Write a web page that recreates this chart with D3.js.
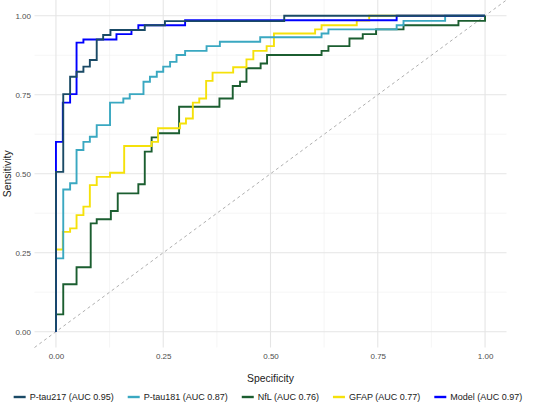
<html>
<head>
<script src="https://d3js.org/d3.v7.min.js"></script>
<style>
  body { margin: 0; background: #fff; }
  text { font-family: 'Liberation Sans', Arial, sans-serif; }
</style>
</head>
<body>
<svg width="540" height="410"></svg>
<script>
// series names + legend text
const seriesNames = ['P-tau217', 'P-tau181', 'NfL', 'GFAP', 'Model'];
const aucValues = ['0.95', '0.87', '0.76', '0.77', '0.97'];
const seriesColors = ['#1a4a66', '#3aa8c1', '#1b5e30', '#f5e10a', '#0000ff'];

// step points: at each x the curve rises to y, then runs right
const ptau217X = [0, 0, 0.017, 0.033, 0.048, 0.064, 0.079, 0.095, 0.11, 0.127, 0.207, 0.254, 0.532, 1];
const ptau217Y = [0, 0.506, 0.752, 0.807, 0.823, 0.839, 0.86, 0.925, 0.939, 0.955, 0.97, 0.983, 1, 1];

const ptau181X = [0, 0, 0.017, 0.033, 0.048, 0.064, 0.079, 0.095, 0.126, 0.157, 0.172, 0.204, 0.219, 0.235, 0.25, 0.266, 0.281, 0.301, 0.351, 0.382, 0.476, 0.619, 0.635, 0.794, 0.81, 0.907, 1];
const ptau181Y = [0, 0.232, 0.45, 0.47, 0.575, 0.601, 0.617, 0.654, 0.725, 0.738, 0.752, 0.791, 0.807, 0.823, 0.839, 0.854, 0.876, 0.889, 0.904, 0.918, 0.932, 0.944, 0.957, 0.97, 0.984, 1, 1];

const nflX = [0, 0, 0.017, 0.048, 0.081, 0.095, 0.128, 0.144, 0.192, 0.207, 0.223, 0.238, 0.287, 0.381, 0.412, 0.429, 0.444, 0.477, 0.492, 0.619, 0.635, 0.684, 0.715, 0.746, 0.81, 0.938, 1];
const nflY = [0, 0.055, 0.15, 0.204, 0.343, 0.356, 0.382, 0.438, 0.467, 0.57, 0.615, 0.628, 0.712, 0.738, 0.778, 0.791, 0.834, 0.849, 0.876, 0.889, 0.904, 0.928, 0.942, 0.957, 0.97, 0.984, 1];

const gfapX = [0, 0, 0.016, 0.033, 0.048, 0.064, 0.079, 0.095, 0.126, 0.159, 0.223, 0.238, 0.289, 0.303, 0.319, 0.334, 0.35, 0.365, 0.413, 0.444, 0.46, 0.491, 0.508, 0.604, 0.619, 0.701, 0.73, 1];
const gfapY = [0, 0.26, 0.316, 0.327, 0.369, 0.396, 0.464, 0.49, 0.503, 0.588, 0.601, 0.644, 0.659, 0.675, 0.725, 0.738, 0.794, 0.82, 0.837, 0.862, 0.889, 0.904, 0.944, 0.957, 0.97, 0.985, 1, 1];

const modelX = [0, 0, 0.016, 0.033, 0.048, 0.064, 0.141, 0.176, 0.192, 0.301, 0.794, 1];
const modelY = [0, 0.601, 0.725, 0.752, 0.915, 0.925, 0.942, 0.955, 0.97, 0.986, 1, 1];

const tickValues = [0, 0.25, 0.5, 0.75, 1];
const tickLabels = ['0.00', '0.25', '0.50', '0.75', '1.00'];
const minorTicks = [0.125, 0.375, 0.625, 0.875];

const allX = [ptau217X, ptau181X, nflX, gfapX, modelX];
const allY = [ptau217Y, ptau181Y, nflY, gfapY, modelY];

const svg = d3.select('svg');
const panelLeft = 34.5, panelRight = 506.5, panelTop = 0, panelBottom = 347.5;

const x = d3.scaleLinear().domain([-0.05, 1.05]).range([panelLeft, panelRight]);
const y = d3.scaleLinear().domain([-0.05, 1.05]).range([panelBottom, panelTop]);

// grid
const grid = svg.append('g');
grid.selectAll('.vminor').data(minorTicks).enter().append('line')
  .attr('x1', d => x(d)).attr('x2', d => x(d)).attr('y1', panelTop).attr('y2', panelBottom)
  .attr('stroke', '#f0f0f0').attr('stroke-width', 0.6);
grid.selectAll('.hminor').data(minorTicks).enter().append('line')
  .attr('y1', d => y(d)).attr('y2', d => y(d)).attr('x1', panelLeft).attr('x2', panelRight)
  .attr('stroke', '#f0f0f0').attr('stroke-width', 0.6);
grid.selectAll('.vmajor').data(tickValues).enter().append('line')
  .attr('x1', d => x(d)).attr('x2', d => x(d)).attr('y1', panelTop).attr('y2', panelBottom)
  .attr('stroke', '#e5e5e5').attr('stroke-width', 1.1);
grid.selectAll('.hmajor').data(tickValues).enter().append('line')
  .attr('y1', d => y(d)).attr('y2', d => y(d)).attr('x1', panelLeft).attr('x2', panelRight)
  .attr('stroke', '#e5e5e5').attr('stroke-width', 1.1);

// reference diagonal
svg.append('line')
  .attr('x1', x(-0.05)).attr('y1', y(-0.05)).attr('x2', x(1.05)).attr('y2', y(1.05))
  .attr('stroke', '#9a9a9a').attr('stroke-width', 0.8).attr('stroke-dasharray', '3,3');

// curves
const line = d3.line().x(d => x(d[0])).y(d => y(d[1])).curve(d3.curveStepAfter);
const drawOrder = [2, 3, 1, 4, 0];
drawOrder.forEach(i => {
  const pts = allX[i].map((v, j) => [v, allY[i][j]]);
  svg.append('path').datum(pts)
    .attr('d', line)
    .attr('fill', 'none')
    .attr('stroke', seriesColors[i])
    .attr('stroke-width', 1.9)
    .attr('stroke-linejoin', 'miter');
});

// axes
const fmt = (d, i) => tickLabels[i];
const xAxis = svg.append('g').attr('transform', 'translate(0,' + panelBottom + ')')
  .call(d3.axisBottom(x).tickValues(tickValues).tickFormat(fmt).tickSize(0).tickPadding(5.5));
const yAxis = svg.append('g').attr('transform', 'translate(' + panelLeft + ',0)')
  .call(d3.axisLeft(y).tickValues(tickValues).tickFormat(fmt).tickSize(0).tickPadding(3.5));
[xAxis, yAxis].forEach(a => {
  a.select('.domain').remove();
  a.selectAll('text').attr('fill', '#4d4d4d').style('font-size', '8px')
    .style('font-family', "'Liberation Sans', Arial, sans-serif");
});

svg.append('text').attr('x', (x(0) + x(1)) / 2).attr('y', 381.5)
  .attr('text-anchor', 'middle').style('font-size', '10.4px').attr('fill', '#1a1a1a')
  .text('Specificity');
svg.append('text').attr('transform', 'translate(11,' + y(0.5) + ') rotate(-90)')
  .attr('text-anchor', 'middle').style('font-size', '10.4px').attr('fill', '#1a1a1a')
  .text('Sensitivity');

// legend
const legend = svg.append('g');
const items = legend.selectAll('g').data(seriesNames).enter().append('g');
items.append('line').attr('x1', 0).attr('x2', 12).attr('y1', 0).attr('y2', 0)
  .attr('stroke', (d, i) => seriesColors[i]).attr('stroke-width', 2.4);
items.append('text').attr('x', 16).attr('y', 3.2)
  .style('font-size', '9px').attr('fill', '#1a1a1a')
  .text((d, i) => d + ' (AUC ' + aucValues[i] + ')');
let pos = 0;
const offsets = [];
const gap = 14;
items.each(function () {
  offsets.push(pos);
  pos += 16 + d3.select(this).select('text').node().getComputedTextLength() + gap;
});
const total = pos - gap;
const startX = 268 - total / 2;
items.attr('transform', (d, i) => 'translate(' + (startX + offsets[i]) + ',397)');
</script>
</body>
</html>
